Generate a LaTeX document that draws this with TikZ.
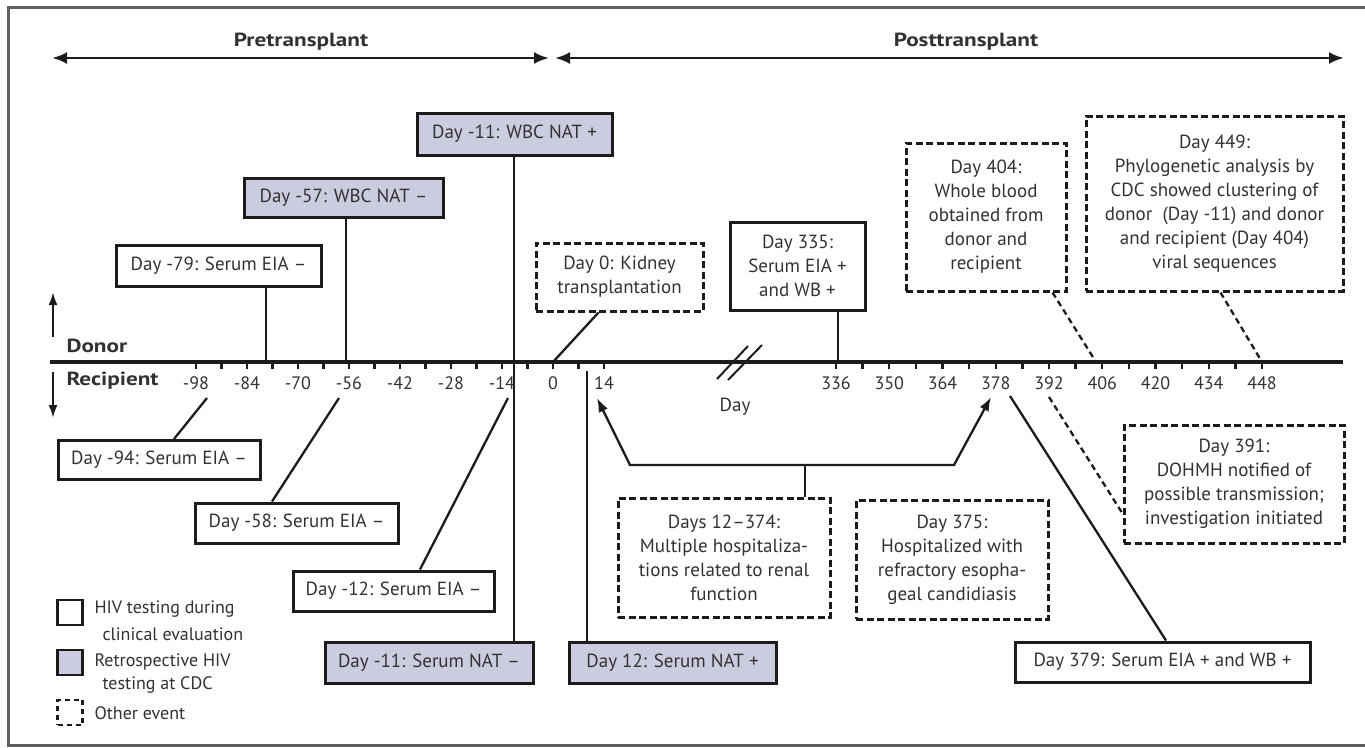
\documentclass[tikz,border=0pt]{standalone}
\usepackage{fontspec}
\setmainfont{PT Sans}
\newfontfamily\headfont{PT Sans Bold}[FakeStretch=1.22]
\usetikzlibrary{arrows.meta,calc}
\definecolor{ink}{RGB}{28,28,28}
\definecolor{txt}{RGB}{50,50,50}
\definecolor{lav}{RGB}{204,204,224}
\definecolor{framegray}{RGB}{95,95,95}
\begin{document}
\begin{tikzpicture}[x=1pt,y=-1pt,
  every node/.style={text=txt, font=\fontsize{19}{24}\selectfont},
  evbox/.style={draw=ink, line width=3pt, align=center, inner sep=0pt},
  clin/.style={evbox, fill=white},
  retro/.style={evbox, fill=lav},
  other/.style={evbox, dash pattern=on 7pt off 3.5pt},
  link/.style={draw=ink, line width=2.3pt},
  dlink/.style={link, dash pattern=on 6pt off 4pt},
  span/.style={draw=ink, line width=2.8pt, {Latex[length=15pt,width=12pt]}-{Latex[length=15pt,width=12pt]}},
  side/.style={draw=ink, line width=2.3pt, -{Latex[length=13pt,width=9pt]}},
  tipped/.style={link, -{Latex[length=14pt,width=10pt]}},
  ticklab/.style={font=\fontsize{18}{20}\selectfont},
  head/.style={font=\headfont\fontsize{19}{22}\selectfont},
  lgtext/.style={anchor=west, font=\fontsize{18}{21}\selectfont}]

\useasboundingbox (0,0) rectangle (1365,747);
\fill[white] (0,0) rectangle (1365,747);
% outer frame (open on the right)
\draw[framegray, line width=3pt] (1366,7) -- (8,7) -- (8,745) -- (1366,745);

% period spans
\coordinate (preL) at (52,58);
\coordinate (preR) at (549,58);
\coordinate (postL) at (555,58);
\coordinate (postR) at (1344,58);
\draw[span] (preL) -- (preR);
\draw[span] (postL) -- (postR);
\node[head] (pre) at (301,42) {Pretransplant};
\node[head] (post) at (966,42) {Posttransplant};

% time axis
\coordinate (axL) at (50,362);
\coordinate (axR) at (1343,362);
\draw[ink, line width=3.2pt] (axL) -- (axR);
\foreach \d in {-98,-91,...,14}
  \draw[ink, line width=2.3pt] ({553+\d*51/14},362) -- ++(0,7);
\foreach \d in {-98,-84,...,14}
  \node[ticklab] at ({553+\d*51/14},383) {\d};
\foreach \d in {336,343,...,448}
  \draw[ink, line width=2.3pt] ({836+(\d-336)*53.25/14},362) -- ++(0,7);
\foreach \d in {336,350,...,448}
  \node[ticklab] at ({836+(\d-336)*53.25/14},383) {\d};
% axis break
\draw[ink, line width=2pt] (717,379) -- (748,346);
\draw[ink, line width=2pt] (728,380) -- (762,345);
\node (daylab) at (735,407) {Day};

% donor / recipient
\node[head, anchor=west] (donor) at (63,346) {Donor};
\node[head, anchor=west] (recip) at (63,381) {Recipient};
\coordinate (upA) at (53,337);
\coordinate (upB) at (53,292);
\coordinate (dnA) at (53,372);
\coordinate (dnB) at (53,418);
\draw[side] (upA) -- (upB);
\draw[side] (dnA) -- (dnB);

% points on the axis
\coordinate (x79) at (266,362);
\coordinate (x57) at (346,362);
\coordinate (x11) at (514,362);
\coordinate (x0) at (553,362);
\coordinate (x12) at (587,371);
\coordinate (x335) at (838,362);
\coordinate (x404) at (1096,362);
\coordinate (x449) at (1262,362);
\coordinate (r94) at (207,398);
\coordinate (r58) at (339,398);
\coordinate (r12) at (508,398);
\coordinate (a14) at (597,398);
\coordinate (a378) at (991,397);
\coordinate (d375) at (994,403);
\coordinate (r379) at (1010,396);
\coordinate (r391) at (1049,397);

% donor events
\node[retro, minimum width=195pt, minimum height=42pt] (wbcp) at (514.5,134) {Day -11: WBC NAT +};
\node[retro, minimum width=199pt, minimum height=39pt] (wbcm) at (343.5,197.5) {Day -57: WBC NAT –};
\node[clin, minimum width=205pt, minimum height=41pt] (e79) at (218.5,265.5) {Day -79: Serum EIA –};
\node[other, minimum width=167pt, minimum height=68pt] (day0) at (619.5,277) {Day 0: Kidney\\transplantation};
\node[clin, minimum width=135pt, minimum height=88pt] (d335) at (797.5,266) {Day 335:\\Serum EIA +\\and WB +};
\node[other, minimum width=160pt, minimum height=148pt] (d404) at (986,217) {Day 404:\\Whole blood\\obtained from\\donor and\\recipient};
\node[other, minimum width=257pt, minimum height=175pt] (d449) at (1214.5,203.5) {Day 449:\\Phylogenetic analysis by\\CDC showed clustering of\\donor\ \ (Day -11) and donor\\and recipient (Day 404)\\viral sequences};

\draw[link] (e79.south -| x79) -- (x79);
\draw[link] (wbcm.south -| x57) -- (x57);
\draw[link] ($(day0.south west)+(64,0)$) -- (x0);
\draw[link] (d335.south -| x335) -- (x335);
\draw[dlink] ($(d404.south east)+(-15,0)$) -- (x404);
\draw[dlink] ($(d449.south)+(6,0)$) -- (x449);

% recipient events
\node[clin, minimum width=202pt, minimum height=39pt] (e94) at (159,460) {Day -94: Serum EIA –};
\node[clin, minimum width=203pt, minimum height=40pt] (e58) at (296.5,523) {Day -58: Serum EIA –};
\node[clin, minimum width=201pt, minimum height=40pt] (e12) at (393.5,591) {Day -12: Serum EIA –};
\node[retro, minimum width=208pt, minimum height=41pt] (n11) at (429,662.5) {Day -11: Serum NAT –};
\node[retro, minimum width=207pt, minimum height=41pt] (n12) at (672.5,662.5) {Day 12: Serum NAT +};
\node[other, minimum width=212pt, minimum height=119pt] (hosp) at (724,557.5) {Days 12–374:\\Multiple hospitaliza-\\tions related to renal\\function};
\node[other, minimum width=192pt, minimum height=119pt] (d375) at (952,559.5) {Day 375:\\Hospitalized with\\refractory esopha-\\geal candidiasis};
\node[other, minimum width=220pt, minimum height=118pt] (d391) at (1234,484) {Day 391:\\DOHMH notified of\\possible transmission;\\investigation initiated};
\node[clin, minimum width=295pt, minimum height=40pt] (e379) at (1162.5,662) {Day 379: Serum EIA + and WB +};

\draw[link] ($(e94.north)+(15,0)$) -- (r94);
\draw[link] ($(e58.north)+(-24.5,0)$) -- (r58);
\draw[link] ($(e12.north)+(26.5,0)$) -- (r12);
\draw[link] (wbcp.south -| x11) -- (n11.north -| x11);
\draw[link] (x12) -- (n12.north -| x12);
\coordinate (hb) at (805,465);
\coordinate (bl) at (630,465);
\coordinate (br) at (954,465);
\draw[link] (hosp.north -| hb) -- (hb);
\draw[tipped] (hb) -- (bl) -- (a14);
\draw[tipped] (hb) -- (br) -- (a378);
\draw[dlink] (d375.north -| d375) -- (d375);
\draw[link] ($(e379.north)+(3.5,0)$) -- (r379);
\draw[dlink] (r391) -- ($(d391.south west)+(0,-31)$);

% legend
\node[clin, line width=2.8pt, minimum width=25pt, minimum height=25pt] (lg1) at (70,612.5) {};
\node[retro, line width=2.8pt, minimum width=25pt, minimum height=25pt] (lg2) at (70,662.5) {};
\node[other, line width=2.8pt, dash pattern=on 5pt off 4pt, minimum width=25pt, minimum height=25pt] (lg3) at (70,712.5) {};
\node[lgtext] (lt1a) at (91,609) {HIV testing during};
\node[lgtext] (lt1b) at (99,634) {clinical evaluation};
\node[lgtext] (lt2a) at (91,662) {Retrospective HIV};
\node[lgtext] (lt2b) at (99,685) {testing at CDC};
\node[lgtext] (lt3) at (91,713) {Other event};
\end{tikzpicture}
\end{document}
